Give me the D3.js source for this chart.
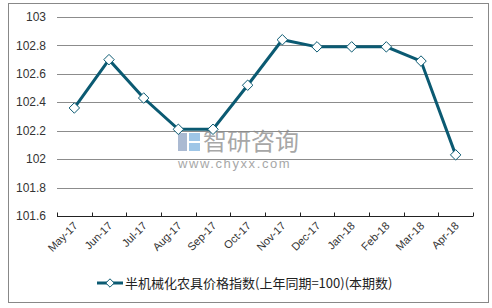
<!DOCTYPE html>
<html>
<head>
<meta charset="utf-8">
<script src="https://cdn.jsdelivr.net/npm/d3@7"></script>
<style>
  body { margin: 0; background: #fff; }
  svg { display: block; font-family: "Liberation Sans", Arial, sans-serif; }
</style>
</head>
<body>
<div id="chart"></div>
<script>
const months = ["May-17", "Jun-17", "Jul-17", "Aug-17", "Sep-17", "Oct-17",
    "Nov-17", "Dec-17", "Jan-18", "Feb-18", "Mar-18", "Apr-18"];
const values = [102.36, 102.7, 102.43, 102.21, 102.21, 102.52,
    102.84, 102.79, 102.79, 102.79, 102.69, 102.03];
const yTicks = [101.6, 101.8, 102, 102.2, 102.4, 102.6, 102.8, 103];
const seriesName = "半机械化农具价格指数(上年同期=100)(本期数)";

const width = 492, height = 308;
const margin = {top: 17, right: 19, bottom: 92, left: 57};
const lineColor = "#0b5a72";

const svg = d3.select("#chart").append("svg")
    .attr("width", width)
    .attr("height", height);

// outer frame
svg.append("rect")
    .attr("x", 8.5).attr("y", 3.5)
    .attr("width", 480).attr("height", 299)
    .attr("fill", "#fff")
    .attr("stroke", "#888");

const x = d3.scaleBand()
    .domain(months)
    .range([margin.left, width - margin.right]);

const y = d3.scaleLinear()
    .domain([101.6, 103])
    .range([height - margin.bottom, margin.top]);

// gridlines
svg.append("g")
    .selectAll("line")
    .data(yTicks.slice(1))
    .enter().append("line")
    .attr("x1", margin.left).attr("x2", width - margin.right)
    .attr("y1", d => Math.round(y(d)) + 0.5)
    .attr("y2", d => Math.round(y(d)) + 0.5)
    .attr("stroke", "#8c8c8c");

// y labels
svg.append("g")
    .selectAll("text")
    .data(yTicks)
    .enter().append("text")
    .attr("x", 46)
    .attr("y", d => y(d))
    .attr("dy", "0.35em")
    .attr("text-anchor", "end")
    .attr("font-size", 12)
    .attr("fill", "#333")
    .text(d => d3.format("")(d));

// watermark
const wm = svg.append("g").attr("opacity", 0.75);
wm.append("rect").attr("x", 178).attr("y", 133).attr("width", 9).attr("height", 18).attr("fill", "#8fa3c4");
wm.append("rect").attr("x", 189).attr("y", 133).attr("width", 11).attr("height", 8).attr("fill", "#7fb4e0");
wm.append("rect").attr("x", 189).attr("y", 143).attr("width", 11).attr("height", 8).attr("fill", "#7fb4e0");
wm.append("text")
    .attr("x", 203).attr("y", 150)
    .attr("font-family", "Noto Sans CJK SC")
    .attr("font-size", 24)
    .attr("fill", "#8a8a8a")
    .text("智研咨询");
wm.append("text")
    .attr("x", 178).attr("y", 168)
    .attr("font-size", 13)
    .attr("letter-spacing", 1.6)
    .attr("fill", "#8a8a8a")
    .text("www.chyxx.com");

// x axis
const xAxis = svg.append("g")
    .attr("transform", `translate(0,${Math.round(y(101.6)) + 0.5})`);
xAxis.append("line")
    .attr("x1", margin.left).attr("x2", width - margin.right)
    .attr("stroke", "#222");
xAxis.selectAll(".tick")
    .data(months.concat(["end"]))
    .enter().append("line")
    .attr("x1", (d, i) => Math.round(margin.left + i * x.step()) + 0.5)
    .attr("x2", (d, i) => Math.round(margin.left + i * x.step()) + 0.5)
    .attr("y1", 0).attr("y2", -4)
    .attr("stroke", "#222");
xAxis.selectAll("text")
    .data(months)
    .enter().append("text")
    .attr("transform", d => `translate(${x(d) + x.bandwidth() / 2 + 4},10) rotate(-45)`)
    .attr("text-anchor", "end")
    .attr("font-size", 11)
    .attr("fill", "#333")
    .text(d => d);

// line
const line = d3.line()
    .x((d, i) => x(months[i]) + x.bandwidth() / 2)
    .y(d => y(d));

svg.append("path")
    .datum(values)
    .attr("d", line)
    .attr("fill", "none")
    .attr("stroke", lineColor)
    .attr("stroke-width", 3);

const diamond = d3.symbol().type(d3.symbolDiamond2).size(70);
svg.append("g")
    .selectAll("path")
    .data(values)
    .enter().append("path")
    .attr("d", diamond)
    .attr("transform", (d, i) => `translate(${x(months[i]) + x.bandwidth() / 2},${y(d)})`)
    .attr("fill", "#fff")
    .attr("stroke", lineColor)
    .attr("stroke-width", 1);

// legend
const legend = svg.append("g").attr("transform", "translate(97,283)");
legend.append("line")
    .attr("x1", 0).attr("x2", 26)
    .attr("stroke", lineColor)
    .attr("stroke-width", 3);
legend.append("path")
    .attr("d", d3.symbol().type(d3.symbolDiamond2).size(45))
    .attr("transform", "translate(13,0)")
    .attr("fill", "#fff")
    .attr("stroke", lineColor);
legend.append("text")
    .attr("x", 28).attr("dy", "0.35em")
    .attr("font-family", "Noto Sans CJK SC")
    .attr("font-size", 13)
    .attr("fill", "#222")
    .text(seriesName);
</script>
</body>
</html>
